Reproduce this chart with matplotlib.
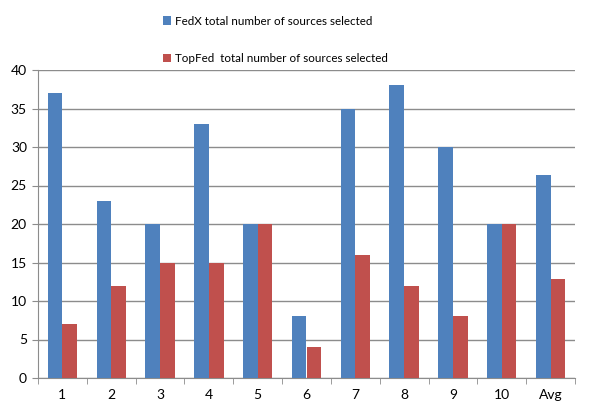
import matplotlib.pyplot as plt
import numpy as np

plt.rcParams['font.family'] = ['Lato', 'DejaVu Sans']

categories = ['1', '2', '3', '4', '5', '6', '7', '8', '9', '10', 'Avg']
fedx = [37, 23, 20, 33, 20, 8, 35, 38, 30, 20, 26.4]
topfed = [7, 12, 15, 15, 20, 4, 16, 12, 8, 20, 12.9]
labels = ['FedX total number of sources selected',
          'TopFed  total number of sources selected']

fig = plt.figure(figsize=(6, 4.08), dpi=100)
ax = fig.add_axes([38/600, 1 - 378/408, (575-38)/600, (378-70)/408])

x = np.arange(len(categories))
w = 0.3
b1 = ax.bar(x - w/2, fedx, w, color='#4F81BD', label=labels[0], zorder=3)
b2 = ax.bar(x + w/2, topfed, w, color='#C0504D', label=labels[1], zorder=3)

ax.set_xlim(-0.5, len(categories) - 0.5)
ax.set_ylim(0, 40)
ax.set_yticks(range(0, 41, 5))
ax.yaxis.grid(True, color='#8C8C8C', linewidth=1, zorder=0)
ax.set_axisbelow(True)

ax.set_xticks(x)
ax.set_xticklabels(categories, fontsize=10)
ax.tick_params(axis='x', length=0, pad=8)
ax.set_xticks(np.arange(-0.5, len(categories)), minor=True)
ax.tick_params(axis='x', which='minor', length=4, color='#8C8C8C', direction='out')
ax.tick_params(axis='y', length=4, color='#8C8C8C', labelsize=10, pad=4)

for s in ['top', 'right']:
    ax.spines[s].set_visible(False)
for s in ['left', 'bottom']:
    ax.spines[s].set_color('#8C8C8C')

fig.legend(handles=[b1, b2], labels=labels, loc='upper left',
           bbox_to_anchor=(158/600, 1 - 11/408), frameon=False, fontsize=8.4,
           handlelength=0.7, handleheight=0.7, handletextpad=0.35,
           labelspacing=2.3, borderaxespad=0)

plt.savefig('out.png', dpi=100)
